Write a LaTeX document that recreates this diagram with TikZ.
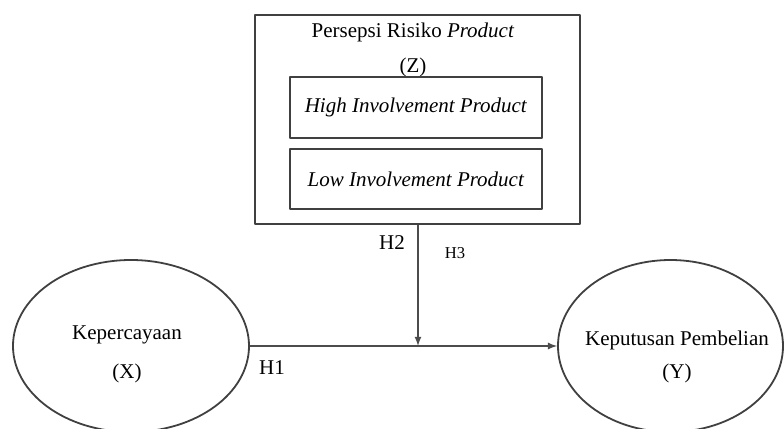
\documentclass[tikz,border=0pt]{standalone}
\usepackage{fontspec}
\setmainfont{Liberation Serif}
\usetikzlibrary{shapes.geometric}
\begin{document}
\begin{tikzpicture}[x=0.5pt,y=-0.5pt,>=latex,line join=round,font=\fontsize{10.5}{12.5}\selectfont,
	box/.style={draw=black!75,line width=0.9pt,rectangle,inner sep=0pt},
	ell/.style={draw=black!75,line width=0.9pt,ellipse,inner sep=0pt},
	conn/.style={draw=black!70,line width=0.6pt}]
		\useasboundingbox (0,0) rectangle (784,429);
		% moderator block
		\node[box,minimum width=162.5pt,minimum height=104.5pt] (z) at (417.5,119.5) {};
		\node (zt) at (413,32) {Persepsi Risiko \textit{Product}};
		\node (zl) at (413,67) {(Z)};
		\node[box,minimum width=126pt,minimum height=30.5pt] (hi) at (416,107.5) {\textit{High Involvement Product}};
		\node[box,minimum width=126pt,minimum height=30pt] (lo) at (416,179) {\textit{Low Involvement Product}};
		% variables
		\node[ell,minimum width=118pt,minimum height=86pt] (x) at (131,346) {};
		\node (xt) at (127,335) {Kepercayaan};
		\node (xl) at (127,373) {(X)};
		\node[ell,minimum width=112.5pt,minimum height=86pt] (y) at (670.5,346) {};
		\node (yt) at (677,340) {Keputusan Pembelian};
		\node (yl) at (677,373) {(Y)};
		% paths
		\coordinate (m) at (418,346);
		\draw[conn,->] (x) -- (y);
		\draw[conn,->] (z.south -| m) -- (m);
		\node (h1) at (272,368) {H1};
		\node (h2) at (392,243) {H2};
		\node[font=\fontsize{8.3}{10}\selectfont] (h3) at (455,253) {H3};
\end{tikzpicture}
\end{document}
